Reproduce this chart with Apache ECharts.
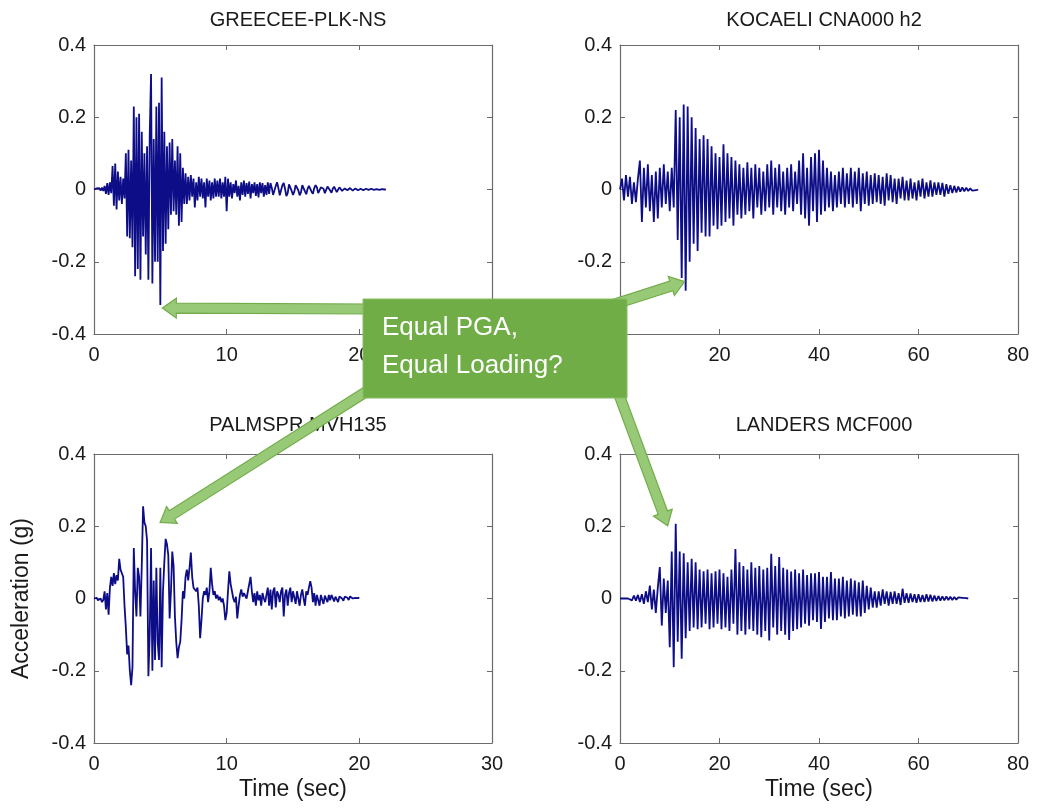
<!DOCTYPE html>
<html>
<head>
<meta charset="utf-8">
<script src="https://cdn.jsdelivr.net/npm/echarts@6/dist/echarts.min.js"></script>
<style>
  html, body { margin: 0; padding: 0; background: #fff; }
  #main { width: 1037px; height: 808px; }
</style>
</head>
<body>
<div id="main"></div>
<script>
// sample step (sec) of each record, values in g
var greeceDt = 0.1;
var greeceAcc = [
    0, 0, 0.003, -0.002, 0.004, -0.003, 0.005, -0.004,
    0.01, -0.012, 0.018, -0.015, 0.02, -0.01,
    0.065, -0.045, 0.072, -0.055, 0.05, -0.03,
    0.035, -0.04, 0.03, -0.025,
    0.1, -0.13, 0.11, -0.135, 0.08,
    -0.16, 0.23, -0.24, 0.2, -0.22,
    0.21, -0.25, 0.16, -0.13, 0.1,
    -0.18, 0.12, -0.25, 0.15,
    0.32, -0.26, 0.14, -0.2, 0.23,
    -0.2, 0.24, -0.32, 0.31, -0.17,
    0.16, -0.15, 0.12, -0.11, 0.13,
    -0.07, 0.14, -0.06, 0.08, -0.07,
    0.12, -0.1, 0.1, -0.09, 0.06,
    -0.04, 0.045, -0.04, 0.035, -0.03,
    0.04, -0.02, 0.03, -0.05, 0.02,
    -0.03, 0.035, -0.02, 0.03, -0.025,
    0.02, -0.05, 0.03, -0.02, 0.025,
    -0.03, 0.02, -0.025, 0.03, -0.02,
    0.025, -0.02, 0.03, -0.025, 0.02,
    -0.02, 0.035, -0.06, 0.03, -0.02,
    0.02, -0.025, 0.015, -0.01, 0.025, -0.02, 0.01, -0.03, 0.02, -0.015,
    0.025, -0.02, 0.018, -0.012, 0.022, -0.025, 0.015, -0.01, 0.02, -0.018,
    0.015, -0.022, 0.02, -0.01, 0.018, -0.02, 0.012, -0.015, 0.02, -0.012,
    0.018, 0.005, -0.015, -0.018, 0.01, 0.02, 0.004, -0.016, -0.012, 0.012,
    0.018, 0.002, -0.018, -0.01, 0.014, 0.016, -0.004, -0.015, -0.006, 0.012,
    0.015, -0.002, -0.016, -0.008, 0.012, 0.014, -0.005, -0.013, 0.002, 0.01,
    0.012, -0.006, -0.012, 0.004, 0.012, 0.006, -0.01, -0.01, 0.006, 0.011,
    0.002, -0.01, -0.006, 0.008, 0.009, -0.003, -0.009, 0.002, 0.008, 0.004,
    -0.007, -0.005, 0.006, 0.007, -0.004, -0.007, 0.003, 0.006, -0.002, -0.005,
    0.004, 0.005, -0.003, -0.005, 0.003, 0.004, -0.002, -0.004, 0.002, 0.003,
    -0.002, -0.003, 0.002, 0.003, -0.001, -0.002, 0.002, 0.002, -0.001, -0.001,
    0.001, 0.001, -0.001, 0, 0.001, 0, 0, 0
];

var kocaeliDt = 0.4;
var kocaeliAcc = [
    0.0, 0.03, -0.03, 0.04, -0.02, 0.035, -0.04, 0.02, -0.035, 0.03,
    0.08, -0.09, 0.06, -0.05, 0.07, -0.06, 0.04, -0.09, 0.05, -0.08,
    0.06, -0.05, 0.07, -0.04, 0.05, -0.06, 0.06, -0.05, 0.22, -0.14,
    0.2, -0.245, 0.235, -0.28, 0.23, -0.2, 0.2, -0.15, 0.17, -0.17,
    0.14, -0.12, 0.15, -0.13, 0.14, -0.13, 0.12, -0.1, 0.1, -0.11,
    0.09, -0.1, 0.125, -0.09, 0.1, -0.08, 0.09, -0.1, 0.08, -0.07,
    0.07, -0.08, 0.06, -0.07, 0.075, -0.06, 0.06, -0.08, 0.07, -0.05,
    0.06, -0.07, 0.05, -0.06, 0.07, -0.05, 0.08, -0.07, 0.06, -0.05,
    0.07, -0.06, 0.05, -0.07, 0.06, -0.05, 0.07, -0.06, 0.05, -0.04,
    0.08, -0.07, 0.1, -0.08, 0.06, -0.1, 0.09, -0.06, 0.1, -0.09,
    0.11, -0.07, 0.08, -0.06, 0.06, -0.05, 0.05, -0.06, 0.04, -0.05,
    0.05, -0.04, 0.06, -0.05, 0.045, -0.04, 0.06, -0.05, 0.05, -0.04,
    0.06, -0.06, 0.045, -0.04, 0.05, -0.045, 0.04, -0.04, 0.045, -0.035,
    0.04, -0.04, 0.035, -0.045, 0.045, -0.03, 0.04, -0.035, 0.03, -0.04,
    0.03, -0.025, 0.035, -0.03, 0.025, -0.03, 0.03, -0.025, 0.02, -0.03,
    0.025, -0.02, 0.03, -0.025, 0.02, -0.02, 0.025, -0.02, 0.02, -0.015,
    0.02, -0.015, 0.018, -0.02, 0.015, -0.012, 0.012, -0.01, 0.01, -0.008,
    0.008, -0.006, 0.006, -0.005, 0.005, -0.004, 0.003, -0.003, 0.002, -0.002,
    0.0
];

var palmsprDt = 0.1;
var palmsprAcc = [
    0, 0, 0.002, -0.005, -0.008, 0.0, -0.01, -0.004, 0.02, -0.03,
    0.015, -0.045, 0.03, 0.06, 0.035, 0.07, 0.04, 0.065, 0.05, 0.11,
    0.08, 0.07, 0.06, -0.02, -0.08, -0.155, -0.13, -0.2, -0.24, -0.19,
    0.14, 0.02, -0.05, 0.085, 0.06, -0.05, 0.09, 0.255, 0.21, 0.2,
    0.16, -0.215, -0.1, 0.14, -0.2, 0.05, -0.17, 0.085, -0.12, -0.17,
    0.085, -0.19, 0.02, 0.1, 0.165, 0.15, 0.12, -0.055, 0.02, 0.13,
    0.09, -0.05, -0.12, -0.165, -0.135, -0.12, -0.06, 0.02, 0.0, 0.06,
    0.08, 0.05, 0.085, 0.127, 0.06, 0.03, 0.035, 0.02, 0.03, -0.02,
    -0.11, -0.06, 0.0, 0.02, 0.01, 0.03, -0.01, 0.02, 0.085, 0.04,
    0.01, 0.02, 0.0, 0.01, -0.005, 0.005, -0.01, 0.0, -0.02, -0.06,
    -0.04, 0.02, 0.075, 0.04, 0.02, 0.0, -0.01, 0.005, -0.055, -0.02,
    0.01, 0.025, 0.005, 0.015, 0.01, 0.0, 0.02, 0.015, 0.06, 0.02,
    -0.01, 0.015, -0.02, 0.02, -0.005, 0.01, -0.02, 0.015, 0.0, -0.01,
    0.01, 0.03, -0.02, 0.025, -0.03, 0.02, 0.03, -0.025, 0.02, 0.01,
    -0.01, 0.02, 0.03, -0.05, 0.01, 0.025, -0.02, 0.015, 0.03, -0.01,
    0.02, 0.025, -0.015, 0.02, 0.015, -0.02, 0.01, 0.025, 0.0, -0.02,
    0.02, 0.01, 0.03, 0.048, 0.03, -0.01, 0.015, -0.02, 0.01, 0.005,
    -0.02, 0.01, 0.015, -0.015, 0.008, 0.012, -0.01, 0.01, -0.005, 0.01,
    0.012, -0.008, 0.005, 0.01, -0.01, 0.006, 0.008, 0.0, -0.006, 0.005,
    0.008, 0.002, -0.004, 0.006, 0.004, 0.0, 0.005, 0.002, 0.004, 0.001,
    0.003
];

var landersDt = 0.4;
var landersAcc = [
    0, 0, 0, 0, 0, 0.005, -0.005, 0.008, -0.006, 0.01,
    -0.01, 0.012, -0.015, 0.02, -0.01, 0.036, -0.03, 0.025, -0.04, 0.03,
    0.087, -0.075, 0.055, -0.04, 0.05, -0.135, 0.13, -0.19, 0.207, -0.12,
    0.13, -0.167, 0.125, -0.11, 0.1, -0.09, 0.11, -0.08, 0.1, -0.085,
    0.08, -0.08, 0.075, -0.07, 0.08, -0.085, 0.07, -0.08, 0.075, -0.07,
    0.08, -0.085, 0.07, -0.08, 0.06, -0.09, 0.08, -0.07, 0.137, -0.1,
    0.1, -0.09, 0.09, -0.1, 0.08, -0.085, 0.1, -0.09, 0.085, -0.1,
    0.09, -0.107, 0.08, -0.09, 0.085, -0.116, 0.124, -0.08, 0.09, -0.1,
    0.115, -0.09, 0.085, -0.1, 0.08, -0.115, 0.075, -0.09, 0.08, -0.085,
    0.07, -0.08, 0.08, -0.07, 0.065, -0.075, 0.07, -0.06, 0.07, -0.065,
    0.073, -0.084, 0.06, -0.065, 0.06, -0.055, 0.073, -0.06, 0.055, -0.06,
    0.055, -0.05, 0.06, -0.055, 0.05, -0.05, 0.055, -0.045, 0.05, -0.05,
    0.045, -0.05, 0.05, -0.04, 0.035, -0.03, 0.03, -0.025, 0.02, -0.025,
    0.02, -0.02, 0.025, -0.015, 0.02, -0.02, 0.018, -0.015, 0.02, -0.015,
    0.015, -0.018, 0.027, -0.012, 0.015, -0.012, 0.014, -0.01, 0.012, -0.012,
    0.012, -0.01, 0.01, -0.01, 0.012, -0.008, 0.01, -0.008, 0.008, -0.007,
    0.007, -0.006, 0.006, -0.005, 0.006, -0.004, 0.005, -0.004, 0.004, -0.003,
    0.003, -0.002, 0.002, -0.001, 0.001, 0
];

var titles = ['GREECEE-PLK-NS', 'KOCAELI CNA000 h2', 'PALMSPR MVH135', 'LANDERS MCF000'];
var xMax = [30, 80, 30, 80];
var xStep = [10, 20, 10, 20];
var records = [[greeceAcc, greeceDt], [kocaeliAcc, kocaeliDt], [palmsprAcc, palmsprDt], [landersAcc, landersDt]];

// peak points the green arrows point at  [time, acc]
var pgaPoints = [[5.0, -0.32], [13.2, -0.28], [3.7, 0.255], [11.2, 0.207]];

var dom = document.getElementById('main');
var myChart = echarts.init(dom);

var fontName = '"Liberation Sans", Arial, sans-serif';
var lineCol = '#6b6b6b';
var textCol = '#1a1a1a';

var gridPos = [
    { left: 94, top: 45, titleTop: 5 },
    { left: 620, top: 45, titleTop: 5 },
    { left: 94, top: 454, titleTop: 410 },
    { left: 620, top: 454, titleTop: 410 }
];

function toXY(acc, dt) {
    return acc.map(function (v, i) {
        return [Math.round(i * dt * 100) / 100, v];
    });
}

// frame axis: line + inward ticks, labels only on bottom/left
function frameAxis(gridIndex, pos, min, max, step, withLabels) {
    return {
        type: 'value', gridIndex: gridIndex, position: pos,
        min: min, max: max, interval: step,
        axisLine: { show: true, onZero: false, lineStyle: { color: lineCol, width: 1.2 } },
        axisTick: { inside: true, length: 5, lineStyle: { color: lineCol } },
        axisLabel: withLabels
            ? { color: textCol, fontFamily: fontName, fontSize: 20, margin: (pos === 'bottom' ? 11 : 8) }
            : { show: false },
        splitLine: { show: false }
    };
}

var grids = [], xAxes = [], yAxes = [], series = [], titleList = [];
for (var i = 0; i < 4; i++) {
    grids.push({ left: gridPos[i].left, top: gridPos[i].top, width: 398, height: 289, show: false });
    titleList.push({
        text: titles[i],
        left: gridPos[i].left + 199,
        top: gridPos[i].titleTop,
        textAlign: 'center',
        textStyle: { fontFamily: fontName, fontSize: 20, fontWeight: 'normal', color: textCol }
    });
    var bottomX = frameAxis(i, 'bottom', 0, xMax[i], xStep[i], true);
    if (i >= 2) {
        bottomX.name = 'Time (sec)';
        bottomX.nameLocation = 'middle';
        bottomX.nameGap = 35;
        bottomX.nameTextStyle = { color: textCol, fontFamily: fontName, fontSize: 23 };
    }
    xAxes.push(bottomX);
    xAxes.push(frameAxis(i, 'top', 0, xMax[i], xStep[i], false));
    var leftY = frameAxis(i, 'left', -0.4, 0.4, 0.2, true);
    if (i === 2) {
        leftY.name = 'Acceleration (g)';
        leftY.nameLocation = 'middle';
        leftY.nameGap = 61;
        leftY.nameTextStyle = { color: textCol, fontFamily: fontName, fontSize: 23 };
    }
    yAxes.push(leftY);
    yAxes.push(frameAxis(i, 'right', -0.4, 0.4, 0.2, false));
    series.push({
        type: 'line',
        xAxisIndex: i * 2,
        yAxisIndex: i * 2,
        showSymbol: false,
        animation: false,
        lineStyle: { color: '#0d0d88', width: 1.8 },
        data: toXY(records[i][0], records[i][1])
    });
}

var option = {
    backgroundColor: '#fff',
    animation: false,
    title: titleList,
    grid: grids,
    xAxis: xAxes,
    yAxis: yAxes,
    series: series
};
myChart.setOption(option);

// block arrow polygon from tail to tip
function arrowShape(x0, y0, x1, y1) {
    var dx = x1 - x0, dy = y1 - y0;
    var len = Math.sqrt(dx * dx + dy * dy);
    var ux = dx / len, uy = dy / len;
    var nx = -uy, ny = ux;
    var sw = 5, hw = 10, hl = 14;
    var bx = x1 - ux * hl, by = y1 - uy * hl;
    return [
        [x0 + nx * sw, y0 + ny * sw],
        [bx + nx * sw, by + ny * sw],
        [bx + nx * hw, by + ny * hw],
        [x1, y1],
        [bx - nx * hw, by - ny * hw],
        [bx - nx * sw, by - ny * sw],
        [x0 - nx * sw, y0 - ny * sw]
    ];
}

var tails = [[372, 309], [612, 305], [372, 388], [618, 392]];
var tipOffset = [[2, 3], [-1, -9], [17, 16], [-8, 2]];
var graphics = [];
for (var k = 0; k < 4; k++) {
    var p = myChart.convertToPixel({ seriesIndex: k }, pgaPoints[k]);
    var tip = [p[0] + tipOffset[k][0], p[1] + tipOffset[k][1]];
    graphics.push({
        type: 'polygon',
        z: 100,
        shape: { points: arrowShape(tails[k][0], tails[k][1], tip[0], tip[1]) },
        style: { fill: '#98c977', stroke: '#72ad4a', lineWidth: 1.2 }
    });
}
graphics.push({
    type: 'rect',
    z: 101,
    shape: { x: 363, y: 299, width: 264, height: 99 },
    style: { fill: '#70ad47', stroke: '#86bd62', lineWidth: 1 }
});
graphics.push({
    type: 'text',
    z: 102,
    style: { text: 'Equal PGA,', x: 382, y: 328, fill: '#fff', font: '26px ' + fontName, verticalAlign: 'middle' }
});
graphics.push({
    type: 'text',
    z: 102,
    style: { text: 'Equal Loading?', x: 382, y: 366, fill: '#fff', font: '26px ' + fontName, verticalAlign: 'middle' }
});
myChart.setOption({ graphic: graphics });

window.addEventListener('resize', function () {
    myChart.resize();
});
</script>
</body>
</html>
